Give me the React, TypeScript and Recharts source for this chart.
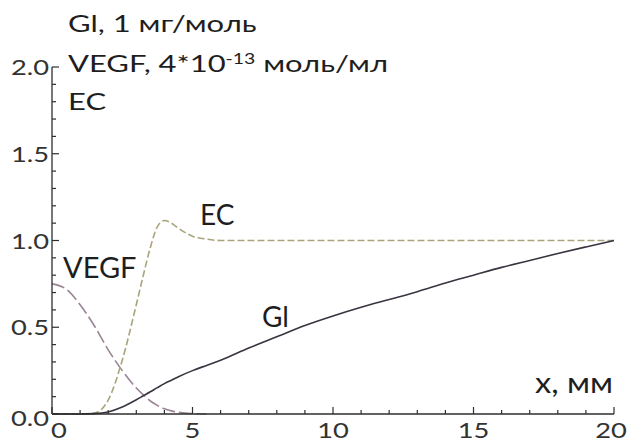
import { LineChart, Line, XAxis, YAxis } from "recharts";

// x positions (mm) and values
const xs = [0, 0.5, 1, 1.5, 2, 2.5, 3, 3.25, 3.5, 3.75, 4, 4.25, 4.5, 5, 5.5, 6, 7, 8, 9, 10, 11, 12, 13, 14, 15, 16, 17, 18, 19, 20];
const glValues = [0, 0, 0, 0.002, 0.012, 0.04, 0.082, 0.105, 0.128, 0.152, 0.175, 0.195, 0.215, 0.25, 0.28, 0.31, 0.38, 0.445, 0.51, 0.565, 0.615, 0.66, 0.705, 0.755, 0.8, 0.845, 0.885, 0.925, 0.963, 1.0];
const vegfValues = [0.75, 0.72, 0.63, 0.51, 0.37, 0.25, 0.15, 0.11, 0.075, 0.05, 0.03, 0.018, 0.01, 0.002, 0, null, null, null, null, null, null, null, null, null, null, null, null, null, null, null];
const ecValues = [0, 0, 0, 0.005, 0.08, 0.31, 0.63, 0.8, 0.96, 1.08, 1.115, 1.1, 1.07, 1.025, 1.008, 1.0, 1.0, 1.0, 1.0, 1.0, 1.0, 1.0, 1.0, 1.0, 1.0, 1.0, 1.0, 1.0, 1.0, 1.0];

const xTicks = [0, 1, 2, 3, 4, 5, 6, 7, 8, 9, 10, 11, 12, 13, 14, 15, 16, 17, 18, 19, 20];
const yTicks = [0, 0.1, 0.2, 0.3, 0.4, 0.5, 0.6, 0.7, 0.8, 0.9, 1.0, 1.1, 1.2, 1.3, 1.4, 1.5, 1.6, 1.7, 1.8, 1.9, 2.0];

const data = xs.map((x, i) => ({
  x,
  gl: glValues[i],
  vegf: vegfValues[i],
  ec: ecValues[i],
}));

const FONT = "Lato, 'Open Sans', sans-serif";
const AXIS = "#2e2e2e";
const WIDE = 1.3; // reference glyphs are stretched sideways

const XTick = ({ x, y, payload }: any) => {
  const major = payload.value % 5 === 0;
  const shift = payload.value === 0 ? 7 : payload.value === 20 ? -3 : 0;
  return (
    <g>
      <line x1={x} y1={y} x2={x} y2={y - (major ? 7 : 4)} stroke={AXIS} strokeWidth={1.2} />
      {major && (
        <text
          transform={`translate(${x + shift},${y + 24}) scale(${WIDE},1)`}
          textAnchor="middle"
          fontSize={21}
          fontFamily={FONT}
          fill="#333"
        >
          {payload.value}
        </text>
      )}
    </g>
  );
};

const YTick = ({ x, y, payload }: any) => {
  const major = Math.round(payload.value * 10) % 5 === 0;
  const shift = payload.value === 0 ? 4 : 0;
  return (
    <g>
      <line x1={x} y1={y} x2={x + (major ? 7 : 4)} y2={y} stroke={AXIS} strokeWidth={1.2} />
      {major && (
        <text
          transform={`translate(${x - 3},${y + 8 + shift}) scale(${WIDE},1)`}
          textAnchor="end"
          fontSize={21}
          fontFamily={FONT}
          fill="#333"
        >
          {payload.value.toFixed(1)}
        </text>
      )}
    </g>
  );
};

export default function App() {
  return (
    <div style={{ position: "absolute", left: 0, top: 0, width: 628, height: 441, background: "#fff" }}>
      <LineChart width={628} height={441} data={data} margin={{ top: 67, right: 14, bottom: 0, left: 0 }}>
        <XAxis
          dataKey="x"
          type="number"
          domain={[0, 20]}
          ticks={xTicks}
          interval={0}
          height={27}
          tickSize={0}
          tickMargin={0}
          tickLine={false}
          axisLine={{ stroke: AXIS, strokeWidth: 1.3 }}
          tick={<XTick />}
        />
        <YAxis
          type="number"
          domain={[0, 2]}
          ticks={yTicks}
          interval={0}
          width={52}
          tickSize={0}
          tickMargin={0}
          tickLine={false}
          axisLine={{ stroke: AXIS, strokeWidth: 1.3 }}
          tick={<YTick />}
        />
        <Line type="monotone" dataKey="vegf" stroke="#9b8495" strokeWidth={1.6} strokeDasharray="13 4" dot={false} connectNulls={false} isAnimationActive={false} />
        <Line type="monotone" dataKey="ec" stroke="#a9a47c" strokeWidth={1.6} strokeDasharray="7 3" dot={false} isAnimationActive={false} />
        <Line type="monotone" dataKey="gl" stroke="#3a3340" strokeWidth={1.6} dot={false} isAnimationActive={false} />
      </LineChart>
      <svg width={628} height={441} style={{ position: "absolute", left: 0, top: 0, pointerEvents: "none" }}>
        <g fontFamily={FONT} fill="#1e1e1e" fontSize={24} transform="translate(68,0) scale(1.29,1)">
          <text x={0} y={32}>Gl, 1 мг/моль</text>
          <text x={0} y={72}>
            VEGF, 4*10
            <tspan fontSize={15} dy={-8}>-13</tspan>
            <tspan dy={8}> моль/мл</tspan>
          </text>
          <text x={0} y={110}>EC</text>
        </g>
        <g fontFamily={FONT} fill="#1e1e1e">
          <text x={63} y={278} fontSize={29}>VEGF</text>
          <text x={200} y={225} fontSize={28}>EC</text>
          <text x={262} y={327} fontSize={28}>Gl</text>
          <text x={535} y={393} fontSize={28} textLength={78} lengthAdjust="spacingAndGlyphs">x, мм</text>
        </g>
      </svg>
    </div>
  );
}
